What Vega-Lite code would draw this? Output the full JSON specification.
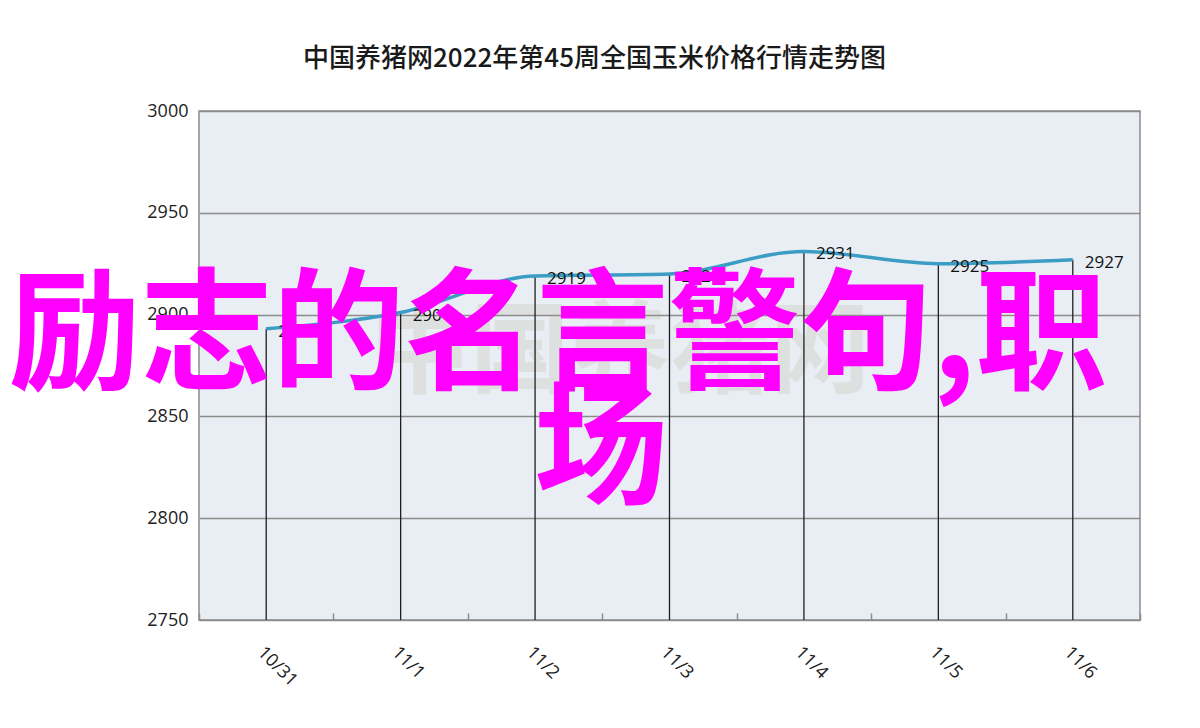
{
  "$schema": "https://vega.github.io/schema/vega-lite/v6.json",
  "autosize": {"type": "none"},
  "padding": {"left": 199, "top": 111, "right": 60, "bottom": 108},
  "width": 941,
  "height": 509,
  "background": "#ffffff",
  "title": {
    "text": "中国养猪网2022年第45周全国玉米价格行情走势图",
    "font": "Noto Sans CJK SC",
    "fontSize": 26,
    "fontWeight": 500,
    "color": "#1a1a1a",
    "anchor": "middle",
    "frame": "group",
    "dx": -75,
    "baseline": "alphabetic",
    "offset": 9
  },
  "config": {
    "view": {"fill": "#e9eef5", "stroke": "#8c8c8c", "strokeWidth": 1.5},
    "axis": {"labelFont": "Open Sans", "labelColor": "#222222", "labelFontSize": 18, "title": null}
  },
  "datasets": {
    "prices": [
      {"date": "10/31", "price": 2893},
      {"date": "11/1", "price": 2901},
      {"date": "11/2", "price": 2919},
      {"date": "11/3", "price": 2920},
      {"date": "11/4", "price": 2931},
      {"date": "11/5", "price": 2925},
      {"date": "11/6", "price": 2927}
    ],
    "overlay1": [{"date": "11/2", "price": 2868.5, "label": "励志的名言警句,职"}],
    "overlay2": [{"date": "11/2", "price": 2812, "label": "场"}],
    "watermark": [{"date": "11/2", "price": 2880, "label": "中国养猪网"}]
  },
  "data": {"name": "prices"},
  "encoding": {
    "x": {
      "field": "date",
      "type": "ordinal",
      "sort": null,
      "scale": {"domain": ["10/31", "11/1", "11/2", "11/3", "11/4", "11/5", "11/6"], "paddingInner": 0, "paddingOuter": 0},
      "axis": {
        "labelAngle": 45,
        "labelAlign": "left",
        "labelBaseline": "top",
        "labelPadding": 30,
        "tickBand": "extent",
        "tickSize": -7,
        "tickColor": "#8c8c8c",
        "tickWidth": 1.5,
        "domain": false,
        "grid": false
      }
    },
    "y": {
      "field": "price",
      "type": "quantitative",
      "scale": {"domain": [2750, 3000], "nice": false, "zero": false},
      "axis": {
        "values": [2750, 2800, 2850, 2900, 2950, 3000],
        "format": "d",
        "ticks": false,
        "domain": false,
        "labelPadding": 11,
        "grid": true,
        "gridColor": "#8c8c8c",
        "gridWidth": 1.5,
        "gridOpacity": 1
      }
    }
  },
  "layer": [
    {
      "data": {"name": "watermark"},
      "mark": {"type": "text", "font": "Noto Sans CJK SC", "fontWeight": "bold", "fontSize": 100, "color": "#a89a70", "opacity": 0.16, "dx": 85, "baseline": "middle", "align": "center"},
      "encoding": {"text": {"field": "label"}}
    },
    {
      "mark": {"type": "rule", "color": "#1f1f1f", "strokeWidth": 1.3},
      "encoding": {"y2": {"datum": 2750}}
    },
    {
      "mark": {"type": "line", "interpolate": "monotone", "color": "#3b9cc4", "strokeWidth": 3.5},
      "encoding": {}
    },
    {
      "mark": {"type": "text", "align": "left", "baseline": "middle", "dx": 12, "dy": 3, "font": "Open Sans", "fontSize": 17, "color": "#111111"},
      "encoding": {"text": {"field": "price", "type": "quantitative"}}
    },
    {
      "data": {"name": "overlay1"},
      "mark": {"type": "text", "font": "Noto Sans CJK SC", "fontWeight": "bold", "fontSize": 132, "color": "#ff00ff", "align": "center", "baseline": "alphabetic", "dx": 23},
      "encoding": {"text": {"field": "label"}}
    },
    {
      "data": {"name": "overlay2"},
      "mark": {"type": "text", "font": "Noto Sans CJK SC", "fontWeight": "bold", "fontSize": 134, "color": "#ff00ff", "align": "center", "baseline": "alphabetic", "dx": 66},
      "encoding": {"text": {"field": "label"}}
    }
  ]
}
